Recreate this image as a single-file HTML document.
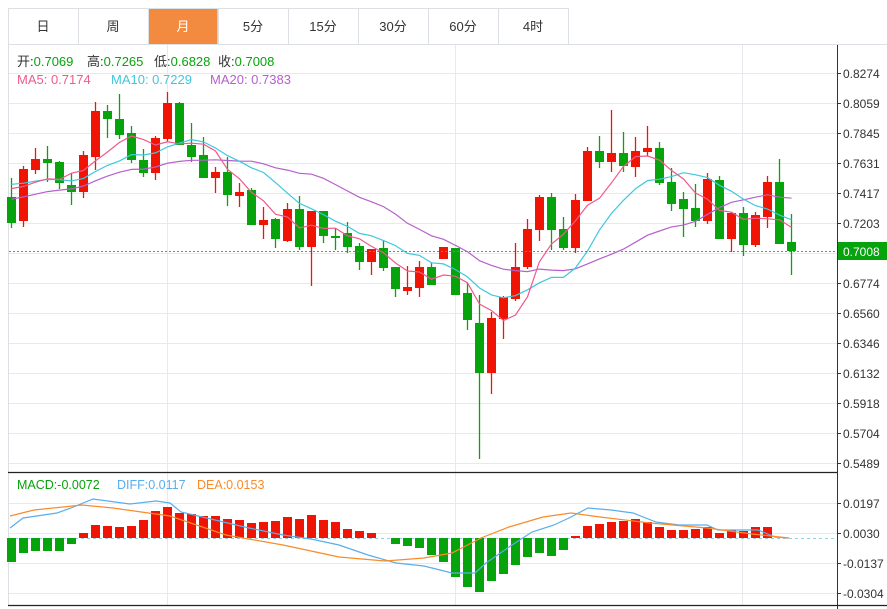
<!DOCTYPE html>
<html><head><meta charset="utf-8">
<style>
body{margin:0;background:#fff;width:887px;height:609px;overflow:hidden;font-family:"Liberation Sans","Noto Sans CJK SC",sans-serif}
svg{position:absolute;left:0;top:0}
</style></head><body>
<svg id="s" width="887" height="609" xmlns="http://www.w3.org/2000/svg" font-family="Liberation Sans, Noto Sans CJK SC, sans-serif"></svg>
<script>
var s=document.getElementById('s'),h='';
var tabs=['日','周','月','5分','15分','30分','60分','4时'];
h+='<rect x="8.5" y="8.5" width="560" height="36" fill="#fff" stroke="#dcdfe3"/>';
for(var i=0;i<8;i++){var x=8+70*i;
 if(i==2)h+='<rect x="'+(x+0.5)+'" y="9" width="69" height="35" fill="#f28b3f"/>';
 if(i>0)h+='<line x1="'+(x+0.5)+'" y1="9" x2="'+(x+0.5)+'" y2="44" stroke="#dcdfe3"/>';
 h+='<text x="'+(x+35)+'" y="31" font-size="13" text-anchor="middle" fill="'+(i==2?'#fff':'#333')+'">'+tabs[i]+'</text>';}
h+='<line x1="8" y1="44.5" x2="887" y2="44.5" stroke="#dcdfe3"/>';
h+='<line x1="8.5" y1="44" x2="8.5" y2="605" stroke="#dcdfe3"/>';
var lab=['0.8274','0.8059','0.7845','0.7631','0.7417','0.7203','0.6988','0.6774','0.6560','0.6346','0.6132','0.5918','0.5704','0.5489'];
for(var k=0;k<14;k++){var y=73+30*k+0.5;h+='<line x1="9" y1="'+y+'" x2="837" y2="'+y+'" stroke="#e6eaee"/>';
 h+='<line x1="837" y1="'+y+'" x2="841" y2="'+y+'" stroke="#333"/>';
 if(k!=6)h+='<text x="843" y="'+(y+4.5)+'" font-size="12" fill="#333">'+lab[k]+'</text>';}
[167,455,742].forEach(function(x){h+='<line x1="'+(x+.5)+'" y1="45" x2="'+(x+.5)+'" y2="605" stroke="#e6eaee"/>';});
var ml=[['0.0197',503],['0.0030',533],['-0.0137',563],['-0.0304',593]];
ml.forEach(function(m){h+='<line x1="9" y1="'+(m[1]+.5)+'" x2="837" y2="'+(m[1]+.5)+'" stroke="#e6eaee"/><line x1="837" y1="'+(m[1]+.5)+'" x2="841" y2="'+(m[1]+.5)+'" stroke="#333"/><text x="843" y="'+(m[1]+5)+'" font-size="12" fill="#333">'+m[0]+'</text>';});
var C=[[197,223,178,228],[221,169,166,227],[170,159,148,174],[159,163,146,182],[162,183,161,189],[185,192,173,205],[192,155,151,198],[157,111,102,170],[111,119,105,138],[119,135,94,139],[133,160,126,163],[160,173,149,177],[173,138,136,180],[139,103,92,142],[103,145,102,145],[145,157,123,162],[155,178,137,178],[178,172,167,193],[172,195,157,206],[196,192,183,207],[190,225,188,225],[225,220,207,239],[219,239,218,248],[241,209,203,242],[209,247,196,250],[247,211,211,286],[211,236,211,243],[236,238,228,250],[233,247,222,253],[246,262,243,270],[262,249,249,275],[248,268,240,271],[267,289,267,297],[291,287,266,295],[288,267,261,297],[267,285,263,285],[259,247,247,259],[248,295,248,295],[293,320,283,330],[323,373,295,459],[373,318,312,394],[319,297,296,339],[299,267,243,301],[267,229,219,269],[230,197,195,241],[197,230,193,250],[229,248,217,250],[248,200,194,253],[201,151,147,201],[151,162,136,168],[162,153,110,172],[153,166,132,172],[167,151,137,177],[152,148,126,156],[148,183,142,185],[182,204,168,211],[199,209,192,237],[208,221,184,227],[221,179,173,224],[180,239,176,239],[239,213,212,252],[213,245,207,256],[245,215,212,247],[217,182,176,228],[182,244,159,244],[242,251,214,275]];
var R='#f01405',G='#07a30c';
function X(i){return 11.5+12*i;}
C.forEach(function(c,i){var x=X(i),up=c[1]<c[0],col=up?R:G,t=Math.min(c[0],c[1]),b=Math.max(c[0],c[1]);if(b-t<2)b=t+2;
 h+='<line x1="'+x+'" y1="'+c[2]+'" x2="'+x+'" y2="'+c[3]+'" stroke="'+col+'" stroke-width="1.3"/>';
 h+='<rect x="'+(x-4.5)+'" y="'+t+'" width="9" height="'+(b-t)+'" fill="'+col+'"/>';});
var cl=[];for(var j=0;j<10;j++)cl.push(214);for(j=0;j<9;j++)cl.push(180);C.forEach(function(c){cl.push(c[1]);});
function ma(n,col){var p=[];for(var i=0;i<C.length;i++){var sm=0;for(var k=0;k<n;k++)sm+=cl[19+i-k];p.push(X(i)+','+(sm/n).toFixed(1));}
 h+='<polyline points="'+p.join(' ')+'" fill="none" stroke="'+col+'" stroke-width="1.2"/>';}
ma(20,'#b660cd');ma(10,'#3fc7de');ma(5,'#ef5a8c');
h+='<line x1="9" y1="251.5" x2="837" y2="251.5" stroke="#3bb33b" stroke-dasharray="2,2"/>';
h+='<rect x="838" y="242" width="49" height="18" fill="#07a30c"/><text x="843" y="256" font-size="12" fill="#fff">0.7008</text>';
h+='<text x="17" y="66" font-size="13" fill="#333">开:<tspan fill="#07a30c">0.7069</tspan></text>';
h+='<text x="87" y="66" font-size="13" fill="#333">高:<tspan fill="#07a30c">0.7265</tspan></text>';
h+='<text x="154" y="66" font-size="13" fill="#333">低:<tspan fill="#07a30c">0.6828</tspan></text>';
h+='<text x="218" y="66" font-size="13" fill="#333">收:<tspan fill="#07a30c">0.7008</tspan></text>';
h+='<text x="17" y="84" font-size="13" fill="#ef5a8c">MA5: 0.7174</text>';
h+='<text x="111" y="84" font-size="13" fill="#3fc7de">MA10: 0.7229</text>';
h+='<text x="210" y="84" font-size="13" fill="#b660cd">MA20: 0.7383</text>';
h+='<line x1="9" y1="538.5" x2="837" y2="538.5" stroke="#8fd3ea" stroke-dasharray="3,3"/>';
var M=[562,553,551,551,551,544,533,525,526,527,526,520,511,507,513,514,516,516,519,520,523,522,521,517,519,515,520,522,529,531,533,538,544,546,548,555,562,577,587,592,581,574,565,557,553,556,550,536,526,524,522,521,519,522,527,530,530,529,527,533,530,531,527,527];
M.forEach(function(v,i){var x=X(i),z=538;if(v==z)return;var col=v<z?R:G;
 h+='<rect x="'+(x-4.5)+'" y="'+Math.min(v,z)+'" width="9" height="'+Math.abs(v-z)+'" fill="'+col+'"/>';});
h+='<polyline points="10,528 23,518 57,513 71,508 93,499 130,504 156,501 170,503 181,512 215,520 249,528 283,535 311,539 339,545 368,555 396,563 424,566 452,573 475,573 486,563 509,547 532,532 554,525 571,517 588,508 611,510 633,513 656,522 679,525 707,525 718,530 735,530 758,530 775,537 789,538" fill="none" stroke="#5aaeea" stroke-width="1.2"/>';
h+='<polyline points="10,516 34,510 82,505 113,508 170,516 226,535 283,545 339,557 385,561 424,558 452,553 481,538 509,527 543,517 571,513 600,517 650,523 707,528 752,534 789,538" fill="none" stroke="#f98b2a" stroke-width="1.2"/>';
h+='<text x="17" y="489" font-size="12.5" fill="#07a30c">MACD:-0.0072</text>';
h+='<text x="117" y="489" font-size="12.5" fill="#5aaeea">DIFF:0.0117</text>';
h+='<text x="197" y="489" font-size="12.5" fill="#f98b2a">DEA:0.0153</text>';
h+='<line x1="837.5" y1="45" x2="837.5" y2="609" stroke="#333"/>';
h+='<line x1="8" y1="472.5" x2="837" y2="472.5" stroke="#222" stroke-width="1.3"/>';
h+='<line x1="8" y1="605.5" x2="887" y2="605.5" stroke="#222" stroke-width="1.3"/>';
s.innerHTML=h;
</script>
</body></html>
